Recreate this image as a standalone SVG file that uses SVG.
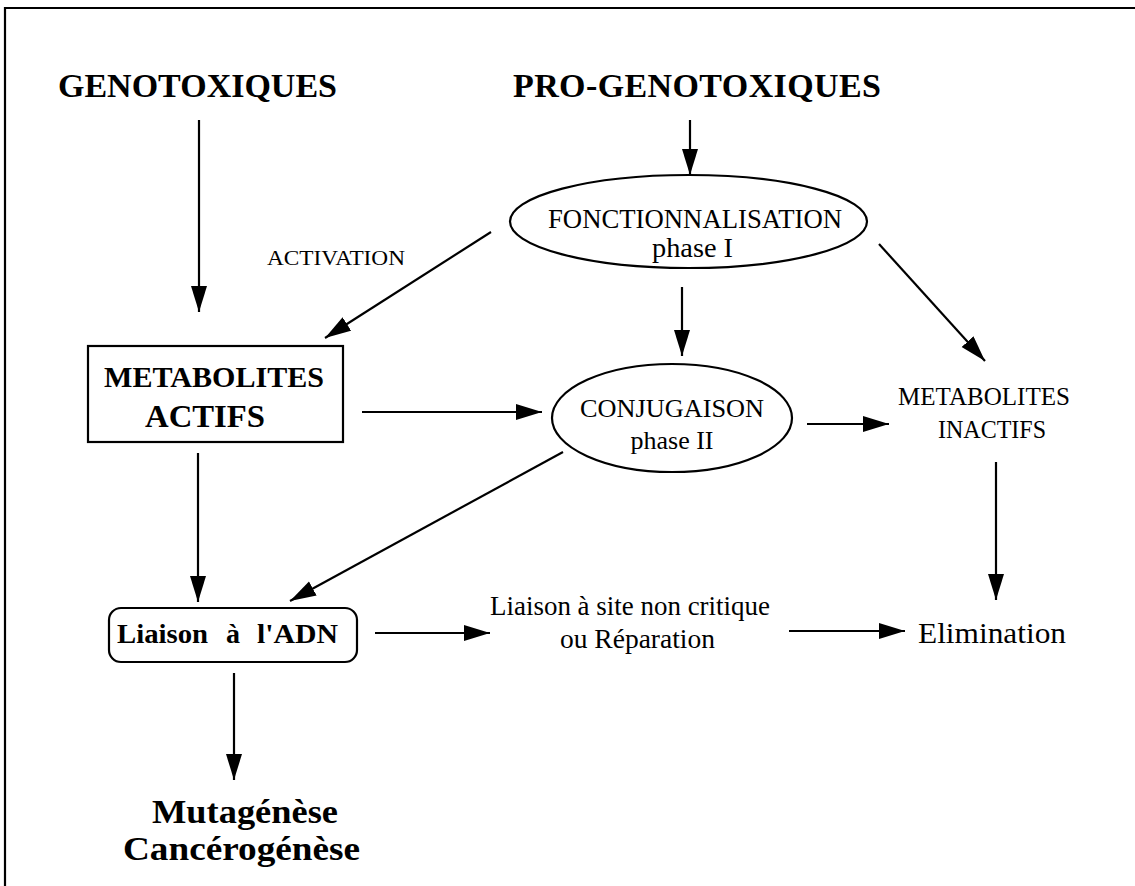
<svg xmlns="http://www.w3.org/2000/svg" width="1135" height="886" viewBox="0 0 1135 886">
<defs>
<marker id="ah" markerUnits="userSpaceOnUse" markerWidth="28" markerHeight="18" refX="26" refY="8" orient="auto">
<path d="M0,0 L26,8 L0,16 Z" fill="#000"/>
</marker>
</defs>
<style>
.t{font-family:"Liberation Serif","Times New Roman",serif;fill:#000}
.b{font-weight:bold}
.ln{stroke:#000;stroke-width:2.2;fill:none;marker-end:url(#ah)}
.sh{stroke:#000;stroke-width:2.2;fill:none}
</style>
<rect width="1135" height="886" fill="#fff"/>
<g id="frame"><path d="M5,886 V8 H1135" class="sh" stroke-width="2.5"/></g>

<g id="genotoxiques"><text class="t b" x="58" y="97" font-size="34" textLength="279" lengthAdjust="spacingAndGlyphs">GENOTOXIQUES</text></g>
<g id="progenotoxiques"><text class="t b" x="513" y="97" font-size="34" textLength="368" lengthAdjust="spacing">PRO-GENOTOXIQUES</text></g>

<g id="fonctionnalisation">
<ellipse cx="688.5" cy="221.5" rx="178.5" ry="46.5" class="sh"/>
<text class="t" x="548" y="228" font-size="26.5" textLength="294" lengthAdjust="spacingAndGlyphs">FONCTIONNALISATION</text>
<text class="t" x="652" y="257" font-size="27" textLength="81" lengthAdjust="spacingAndGlyphs">phase I</text>
</g>

<g id="activation-label"><text class="t" x="267" y="265" font-size="22" textLength="138" lengthAdjust="spacingAndGlyphs">ACTIVATION</text></g>

<g id="metabolites-actifs">
<rect x="88" y="346" width="255" height="96" class="sh"/>
<text class="t b" x="104" y="387" font-size="30" textLength="220" lengthAdjust="spacingAndGlyphs">METABOLITES</text>
<text class="t b" x="145" y="427" font-size="31" textLength="120" lengthAdjust="spacingAndGlyphs">ACTIFS</text>
</g>

<g id="conjugaison">
<ellipse cx="672" cy="418" rx="120" ry="54" class="sh"/>
<text class="t" x="580" y="417" font-size="26" textLength="184" lengthAdjust="spacingAndGlyphs">CONJUGAISON</text>
<text class="t" x="672" y="449" font-size="26" text-anchor="middle">phase II</text>
</g>

<g id="metabolites-inactifs">
<text class="t" x="898" y="405" font-size="25" textLength="172" lengthAdjust="spacingAndGlyphs">METABOLITES</text>
<text class="t" x="938" y="438" font-size="25" textLength="108" lengthAdjust="spacingAndGlyphs">INACTIFS</text>
</g>

<g id="liaison-adn">
<rect x="109" y="608" width="248" height="54" rx="12" class="sh"/>
<text class="t b" y="643" font-size="28"><tspan x="117" textLength="91" lengthAdjust="spacingAndGlyphs">Liaison</tspan><tspan x="226">à</tspan><tspan x="257" textLength="81" lengthAdjust="spacingAndGlyphs">l'ADN</tspan></text>
</g>

<g id="liaison-site">
<text class="t" x="490" y="615" font-size="27" textLength="280" lengthAdjust="spacingAndGlyphs">Liaison à site non critique</text>
<text class="t" x="560" y="648" font-size="27" textLength="155" lengthAdjust="spacingAndGlyphs">ou Réparation</text>
</g>

<g id="elimination"><text class="t" x="918" y="643" font-size="29" textLength="148" lengthAdjust="spacingAndGlyphs">Elimination</text></g>

<g id="mutagenese">
<text class="t b" x="152" y="823" font-size="33" textLength="186" lengthAdjust="spacingAndGlyphs">Mutagénèse</text>
<text class="t b" x="123" y="860" font-size="33" textLength="237" lengthAdjust="spacingAndGlyphs">Cancérogénèse</text>
</g>

<g id="connectors">
<line x1="199" y1="120" x2="199" y2="312" class="ln"/>
<line x1="690" y1="120" x2="690" y2="175" class="ln"/>
<line x1="491" y1="232" x2="325" y2="338" class="ln"/>
<line x1="682" y1="287" x2="682" y2="356" class="ln"/>
<line x1="362" y1="412" x2="542" y2="412" class="ln"/>
<line x1="879" y1="244" x2="985" y2="361" class="ln"/>
<line x1="807" y1="424" x2="889" y2="424" class="ln"/>
<line x1="996" y1="462" x2="996" y2="600" class="ln"/>
<line x1="198" y1="453" x2="198" y2="602" class="ln"/>
<line x1="563" y1="452" x2="290" y2="601" class="ln"/>
<line x1="375" y1="633" x2="490" y2="633" class="ln"/>
<line x1="789" y1="631" x2="905" y2="631" class="ln"/>
<line x1="234" y1="673" x2="234" y2="780" class="ln"/>
</g>
</svg>
